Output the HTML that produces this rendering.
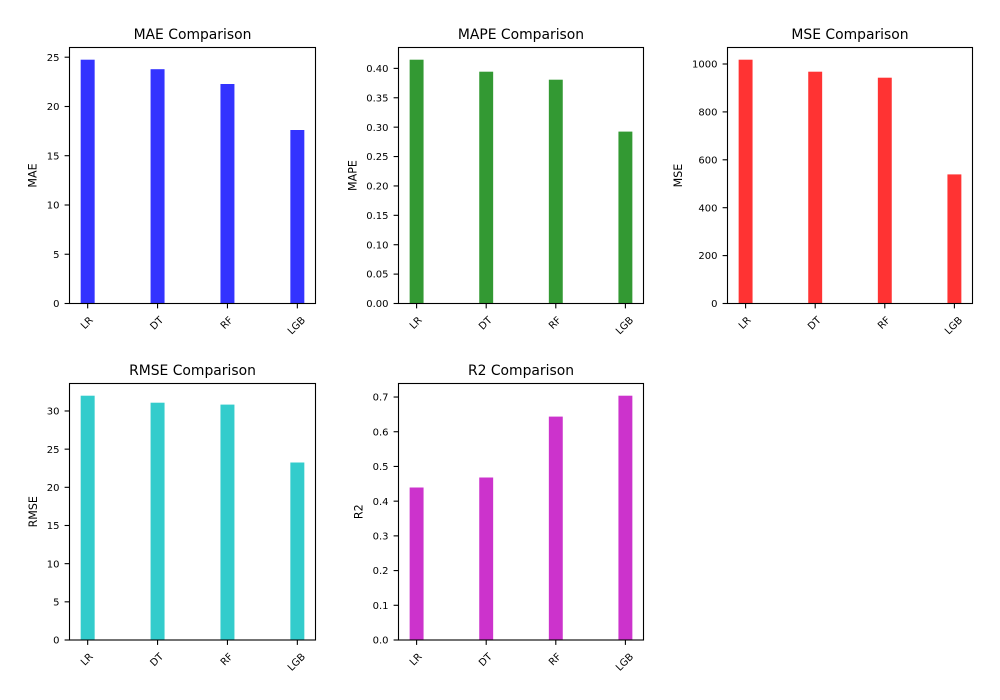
<!DOCTYPE html>
<html>
<head>
<meta charset="utf-8">
<style>
  html, body { margin:0; padding:0; background:#ffffff; }
  svg { display:block; }
  text { font-family: "DejaVu Sans", "Liberation Sans", sans-serif; fill:#000; }
  .tk { font-size:10px; }
  .tt { font-size:13.9px; }
  .yl { font-size:11.1px; }
  .ax { fill:none; stroke:#000; stroke-width:1.1; }
  .tick { stroke:#000; stroke-width:1.1; }
</style>
</head>
<body>
<svg width="1000" height="700" viewBox="0 0 1000 700" xmlns="http://www.w3.org/2000/svg">
<rect x="0" y="0" width="1000" height="700" fill="#ffffff"/>

<!-- ===== Axis 1: MAE ===== -->
<g>
  <rect x="80.68" y="59.7" width="13.98" height="243.8" fill="#3333ff"/>
  <rect x="150.57" y="69.2" width="13.98" height="234.3" fill="#3333ff"/>
  <rect x="220.46" y="84.0" width="13.98" height="219.5" fill="#3333ff"/>
  <rect x="290.35" y="130.0" width="13.98" height="173.5" fill="#3333ff"/>
  <rect class="ax" x="69.5" y="47.5" width="246" height="256"/>
  <g class="tick">
    <line x1="64.6" y1="303.5" x2="69.5" y2="303.5"/>
    <line x1="64.6" y1="254.25" x2="69.5" y2="254.25"/>
    <line x1="64.6" y1="205.0" x2="69.5" y2="205.0"/>
    <line x1="64.6" y1="155.7" x2="69.5" y2="155.7"/>
    <line x1="64.6" y1="106.5" x2="69.5" y2="106.5"/>
    <line x1="64.6" y1="57.2" x2="69.5" y2="57.2"/>
    <line x1="87.67" y1="303.5" x2="87.67" y2="308.4"/>
    <line x1="157.56" y1="303.5" x2="157.56" y2="308.4"/>
    <line x1="227.45" y1="303.5" x2="227.45" y2="308.4"/>
    <line x1="297.34" y1="303.5" x2="297.34" y2="308.4"/>
  </g>
  <g class="tk" text-anchor="end">
    <text x="59.5" y="307.1">0</text>
    <text x="59.5" y="257.85">5</text>
    <text x="59.5" y="208.6">10</text>
    <text x="59.5" y="159.3">15</text>
    <text x="59.5" y="110.1">20</text>
    <text x="59.5" y="60.8">25</text>
  </g>
  <g class="tk" text-anchor="middle">
    <text transform="translate(86.7,322.7) rotate(-45)" y="3.46">LR</text>
    <text transform="translate(156.6,323.1) rotate(-45)" y="3.46">DT</text>
    <text transform="translate(226.5,322.7) rotate(-45)" y="3.46">RF</text>
    <text transform="translate(296.3,325.4) rotate(-45)" y="3.46">LGB</text>
  </g>
  <text class="tt" x="192.5" y="39.2" text-anchor="middle">MAE Comparison</text>
  <text class="yl" transform="translate(36.7,175.5) rotate(-90)" text-anchor="middle">MAE</text>
</g>

<!-- ===== Axis 2: MAPE ===== -->
<g>
  <rect x="409.64" y="59.7" width="13.92" height="243.8" fill="#339933"/>
  <rect x="479.24" y="71.7" width="13.92" height="231.8" fill="#339933"/>
  <rect x="548.84" y="79.7" width="13.92" height="223.8" fill="#339933"/>
  <rect x="618.44" y="131.6" width="13.92" height="171.9" fill="#339933"/>
  <rect class="ax" x="398.5" y="47.5" width="245" height="256"/>
  <g class="tick">
    <line x1="393.6" y1="303.5" x2="398.5" y2="303.5"/>
    <line x1="393.6" y1="274.11" x2="398.5" y2="274.11"/>
    <line x1="393.6" y1="244.72" x2="398.5" y2="244.72"/>
    <line x1="393.6" y1="215.33" x2="398.5" y2="215.33"/>
    <line x1="393.6" y1="185.94" x2="398.5" y2="185.94"/>
    <line x1="393.6" y1="156.55" x2="398.5" y2="156.55"/>
    <line x1="393.6" y1="127.16" x2="398.5" y2="127.16"/>
    <line x1="393.6" y1="97.77" x2="398.5" y2="97.77"/>
    <line x1="393.6" y1="68.38" x2="398.5" y2="68.38"/>
    <line x1="416.6" y1="303.5" x2="416.6" y2="308.4"/>
    <line x1="486.2" y1="303.5" x2="486.2" y2="308.4"/>
    <line x1="555.8" y1="303.5" x2="555.8" y2="308.4"/>
    <line x1="625.4" y1="303.5" x2="625.4" y2="308.4"/>
  </g>
  <g class="tk" text-anchor="end">
    <text x="388.5" y="307.1">0.00</text>
    <text x="388.5" y="277.71">0.05</text>
    <text x="388.5" y="248.32">0.10</text>
    <text x="388.5" y="218.93">0.15</text>
    <text x="388.5" y="189.54">0.20</text>
    <text x="388.5" y="160.15">0.25</text>
    <text x="388.5" y="130.76">0.30</text>
    <text x="388.5" y="101.37">0.35</text>
    <text x="388.5" y="71.98">0.40</text>
  </g>
  <g class="tk" text-anchor="middle">
    <text transform="translate(415.6,322.7) rotate(-45)" y="3.46">LR</text>
    <text transform="translate(485.2,323.1) rotate(-45)" y="3.46">DT</text>
    <text transform="translate(554.8,322.7) rotate(-45)" y="3.46">RF</text>
    <text transform="translate(624.4,325.4) rotate(-45)" y="3.46">LGB</text>
  </g>
  <text class="tt" x="521" y="39.2" text-anchor="middle">MAPE Comparison</text>
  <text class="yl" transform="translate(356.5,175.5) rotate(-90)" text-anchor="middle">MAPE</text>
</g>

<!-- ===== Axis 3: MSE ===== -->
<g>
  <rect x="738.64" y="59.7" width="13.92" height="243.8" fill="#ff3333"/>
  <rect x="808.24" y="71.7" width="13.92" height="231.8" fill="#ff3333"/>
  <rect x="877.84" y="77.7" width="13.92" height="225.8" fill="#ff3333"/>
  <rect x="947.44" y="174.4" width="13.92" height="129.1" fill="#ff3333"/>
  <rect class="ax" x="727.5" y="47.5" width="245" height="256"/>
  <g class="tick">
    <line x1="722.6" y1="303.5" x2="727.5" y2="303.5"/>
    <line x1="722.6" y1="255.6" x2="727.5" y2="255.6"/>
    <line x1="722.6" y1="207.7" x2="727.5" y2="207.7"/>
    <line x1="722.6" y1="159.8" x2="727.5" y2="159.8"/>
    <line x1="722.6" y1="111.9" x2="727.5" y2="111.9"/>
    <line x1="722.6" y1="64.0" x2="727.5" y2="64.0"/>
    <line x1="745.6" y1="303.5" x2="745.6" y2="308.4"/>
    <line x1="815.2" y1="303.5" x2="815.2" y2="308.4"/>
    <line x1="884.8" y1="303.5" x2="884.8" y2="308.4"/>
    <line x1="954.4" y1="303.5" x2="954.4" y2="308.4"/>
  </g>
  <g class="tk" text-anchor="end">
    <text x="717.5" y="307.1">0</text>
    <text x="717.5" y="259.2">200</text>
    <text x="717.5" y="211.3">400</text>
    <text x="717.5" y="163.4">600</text>
    <text x="717.5" y="115.5">800</text>
    <text x="717.5" y="67.6">1000</text>
  </g>
  <g class="tk" text-anchor="middle">
    <text transform="translate(744.6,322.7) rotate(-45)" y="3.46">LR</text>
    <text transform="translate(814.2,323.1) rotate(-45)" y="3.46">DT</text>
    <text transform="translate(883.8,322.7) rotate(-45)" y="3.46">RF</text>
    <text transform="translate(953.4,325.4) rotate(-45)" y="3.46">LGB</text>
  </g>
  <text class="tt" x="850" y="39.2" text-anchor="middle">MSE Comparison</text>
  <text class="yl" transform="translate(682,175.5) rotate(-90)" text-anchor="middle">MSE</text>
</g>

<!-- ===== Axis 4: RMSE ===== -->
<g>
  <rect x="80.68" y="395.7" width="13.98" height="244.3" fill="#33cccc"/>
  <rect x="150.57" y="402.7" width="13.98" height="237.3" fill="#33cccc"/>
  <rect x="220.46" y="404.6" width="13.98" height="235.4" fill="#33cccc"/>
  <rect x="290.35" y="462.5" width="13.98" height="177.5" fill="#33cccc"/>
  <rect class="ax" x="69.5" y="383.5" width="246" height="256.5"/>
  <g class="tick">
    <line x1="64.6" y1="640" x2="69.5" y2="640"/>
    <line x1="64.6" y1="601.83" x2="69.5" y2="601.83"/>
    <line x1="64.6" y1="563.66" x2="69.5" y2="563.66"/>
    <line x1="64.6" y1="525.49" x2="69.5" y2="525.49"/>
    <line x1="64.6" y1="487.32" x2="69.5" y2="487.32"/>
    <line x1="64.6" y1="449.15" x2="69.5" y2="449.15"/>
    <line x1="64.6" y1="410.98" x2="69.5" y2="410.98"/>
    <line x1="87.67" y1="640" x2="87.67" y2="644.9"/>
    <line x1="157.56" y1="640" x2="157.56" y2="644.9"/>
    <line x1="227.45" y1="640" x2="227.45" y2="644.9"/>
    <line x1="297.34" y1="640" x2="297.34" y2="644.9"/>
  </g>
  <g class="tk" text-anchor="end">
    <text x="59.5" y="643.6">0</text>
    <text x="59.5" y="605.43">5</text>
    <text x="59.5" y="567.26">10</text>
    <text x="59.5" y="529.09">15</text>
    <text x="59.5" y="490.92">20</text>
    <text x="59.5" y="452.75">25</text>
    <text x="59.5" y="414.58">30</text>
  </g>
  <g class="tk" text-anchor="middle">
    <text transform="translate(86.7,659.2) rotate(-45)" y="3.46">LR</text>
    <text transform="translate(156.6,659.6) rotate(-45)" y="3.46">DT</text>
    <text transform="translate(226.5,659.2) rotate(-45)" y="3.46">RF</text>
    <text transform="translate(296.3,661.9) rotate(-45)" y="3.46">LGB</text>
  </g>
  <text class="tt" x="192.5" y="375.2" text-anchor="middle">RMSE Comparison</text>
  <text class="yl" transform="translate(37,511.75) rotate(-90)" text-anchor="middle">RMSE</text>
</g>

<!-- ===== Axis 5: R2 ===== -->
<g>
  <rect x="409.64" y="487.5" width="13.92" height="152.5" fill="#cc33cc"/>
  <rect x="479.24" y="477.5" width="13.92" height="162.5" fill="#cc33cc"/>
  <rect x="548.84" y="416.6" width="13.92" height="223.4" fill="#cc33cc"/>
  <rect x="618.44" y="395.7" width="13.92" height="244.3" fill="#cc33cc"/>
  <rect class="ax" x="398.5" y="383.5" width="245" height="256.5"/>
  <g class="tick">
    <line x1="393.6" y1="640" x2="398.5" y2="640"/>
    <line x1="393.6" y1="605.29" x2="398.5" y2="605.29"/>
    <line x1="393.6" y1="570.58" x2="398.5" y2="570.58"/>
    <line x1="393.6" y1="535.87" x2="398.5" y2="535.87"/>
    <line x1="393.6" y1="501.16" x2="398.5" y2="501.16"/>
    <line x1="393.6" y1="466.45" x2="398.5" y2="466.45"/>
    <line x1="393.6" y1="431.74" x2="398.5" y2="431.74"/>
    <line x1="393.6" y1="397.03" x2="398.5" y2="397.03"/>
    <line x1="416.6" y1="640" x2="416.6" y2="644.9"/>
    <line x1="486.2" y1="640" x2="486.2" y2="644.9"/>
    <line x1="555.8" y1="640" x2="555.8" y2="644.9"/>
    <line x1="625.4" y1="640" x2="625.4" y2="644.9"/>
  </g>
  <g class="tk" text-anchor="end">
    <text x="388.5" y="643.6">0.0</text>
    <text x="388.5" y="608.89">0.1</text>
    <text x="388.5" y="574.18">0.2</text>
    <text x="388.5" y="539.47">0.3</text>
    <text x="388.5" y="504.76">0.4</text>
    <text x="388.5" y="470.05">0.5</text>
    <text x="388.5" y="435.34">0.6</text>
    <text x="388.5" y="400.63">0.7</text>
  </g>
  <g class="tk" text-anchor="middle">
    <text transform="translate(415.6,659.2) rotate(-45)" y="3.46">LR</text>
    <text transform="translate(485.2,659.6) rotate(-45)" y="3.46">DT</text>
    <text transform="translate(554.8,659.2) rotate(-45)" y="3.46">RF</text>
    <text transform="translate(624.4,661.9) rotate(-45)" y="3.46">LGB</text>
  </g>
  <text class="tt" x="521" y="375.2" text-anchor="middle">R2 Comparison</text>
  <text class="yl" transform="translate(362.5,511.75) rotate(-90)" text-anchor="middle">R2</text>
</g>
</svg>
</body>
</html>
